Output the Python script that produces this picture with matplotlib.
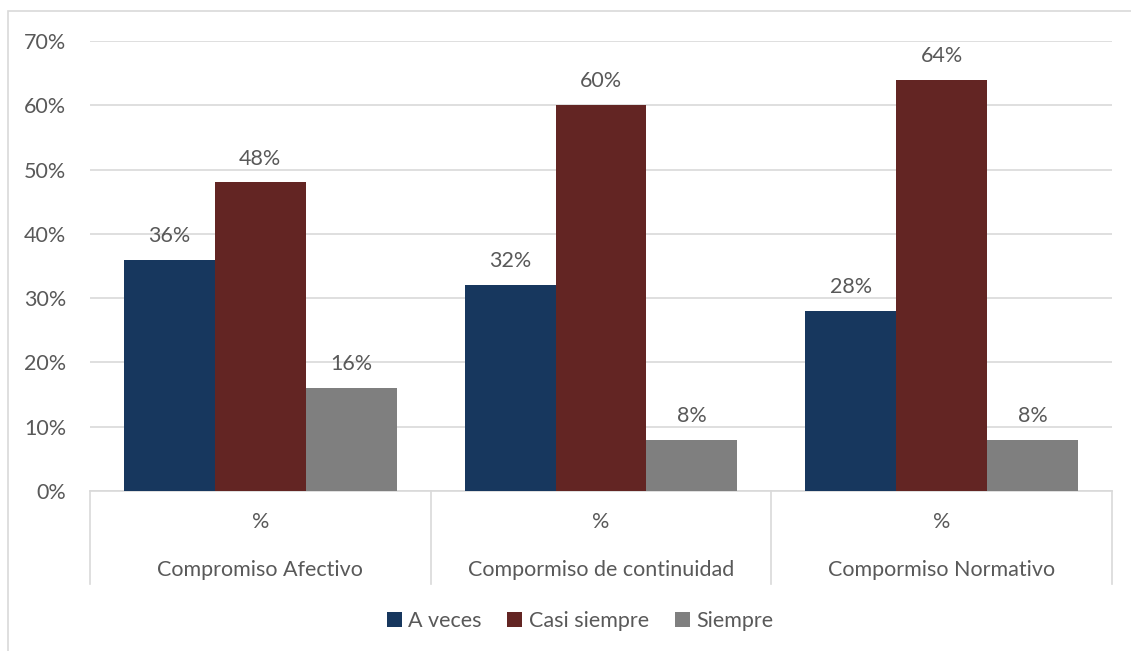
import matplotlib.pyplot as plt
import numpy as np
from matplotlib.patches import Rectangle

plt.rcParams['font.family'] = ['Lato', 'DejaVu Sans']

categorias = ["Compromiso Afectivo", "Compormiso de continuidad", "Compormiso Normativo"]
subetiqueta = "%"
series = ["A veces", "Casi siempre", "Siempre"]
a_veces = [36, 32, 28]
casi_siempre = [48, 60, 64]
siempre = [16, 8, 8]
colores = ["#17375E", "#632523", "#7F7F7F"]
texto = "#595959"
linea = "#D9D9D9"
fs = 15.5

fig = plt.figure(figsize=(11.31, 6.51), dpi=100)
ax = fig.add_axes([90/1131, 160/651, 1022/1131, 450/651])

x = np.arange(len(categorias))
ancho = 0.8 / 3
valores = [a_veces, casi_siempre, siempre]
for i, (serie, vals) in enumerate(zip(series, valores)):
    pos = x + (i - 1) * ancho
    barras = ax.bar(pos, vals, width=ancho, color=colores[i], label=serie, zorder=3)
    for b, v in zip(barras, vals):
        ax.annotate(f"{v}%", (b.get_x() + b.get_width() / 2, v), xytext=(0, 10),
                    textcoords="offset points", ha="center", va="bottom",
                    fontsize=fs, color=texto)

ax.set_xlim(-0.5, len(categorias) - 0.5)
ax.set_ylim(0, 70)
ax.set_yticks(range(0, 71, 10))
ax.set_yticklabels([f"{v}%" for v in range(0, 71, 10)], fontsize=fs, color=texto)
ax.tick_params(axis="y", length=0, pad=17)
ax.set_xticks([])
ax.grid(axis="y", color=linea, linewidth=1.2, zorder=0)
for s in ["top", "right", "left"]:
    ax.spines[s].set_visible(False)
ax.spines["bottom"].set_color(linea)
ax.spines["bottom"].set_linewidth(1.2)

# eje de categorias de dos niveles
trans = ax.get_xaxis_transform()
for xs in np.arange(-0.5, len(categorias), 1.0):
    ax.plot([xs, xs], [0, -93/450], transform=trans, color=linea, lw=1.2, clip_on=False)
for xi, cat in zip(x, categorias):
    ax.text(xi, -31/450, subetiqueta, transform=trans, ha="center", va="center",
            fontsize=fs, color=texto)
    ax.text(xi, -79/450, cat, transform=trans, ha="center", va="center",
            fontsize=fs, color=texto)

fig.legend(loc="center", bbox_to_anchor=(580/1131, 1 - 621/651), ncol=3, frameon=False,
           fontsize=fs, labelcolor=texto, handlelength=0.7, handleheight=0.7,
           handletextpad=0.3, columnspacing=1.2)

fig.patches.append(Rectangle((8/1131, -0.01), 1.02, 1 - 11/651 + 0.01, transform=fig.transFigure,
                             fill=False, edgecolor=linea, linewidth=1.2))

fig.savefig("out.png", dpi=100)
